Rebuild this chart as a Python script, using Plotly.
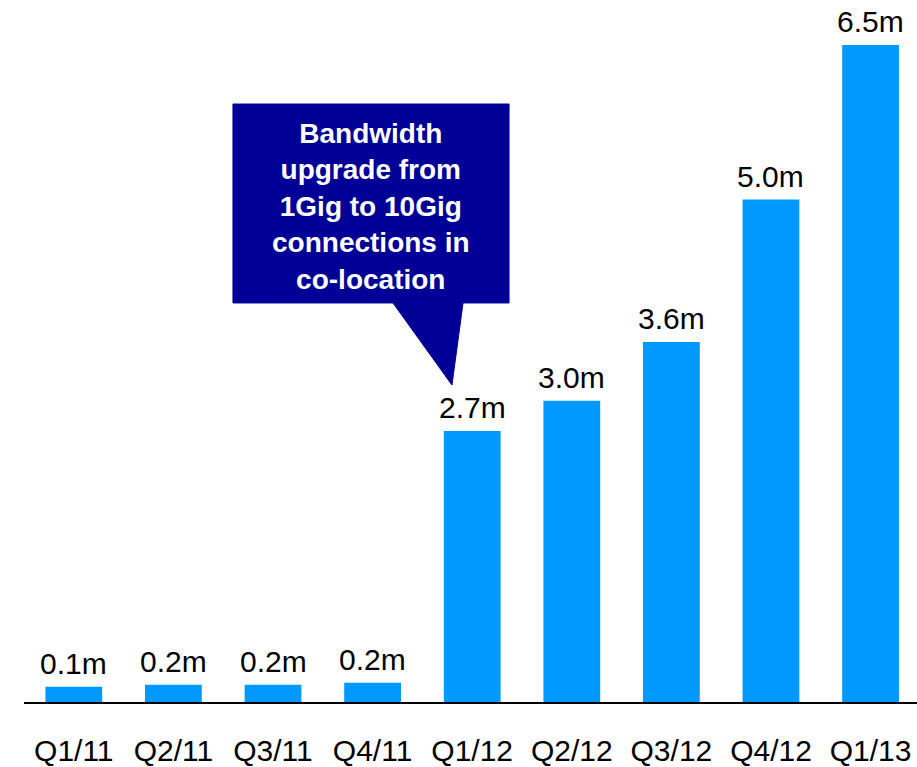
import plotly.graph_objects as go

categories = ["Q1/11", "Q2/11", "Q3/11", "Q4/11", "Q1/12", "Q2/12", "Q3/12", "Q4/12", "Q1/13"]
values = [0.15, 0.17, 0.17, 0.19, 2.68, 2.98, 3.56, 4.97, 6.5]
value_labels = ["0.1m", "0.2m", "0.2m", "0.2m", "2.7m", "3.0m", "3.6m", "5.0m", "6.5m"]
callout_text = "Bandwidth<br>upgrade from<br>1Gig to 10Gig<br>connections in<br>co-location"

FONT = "Arial, Liberation Sans, sans-serif"
BAR = "#0099FF"
NAVY = "#000096"

idx = list(range(len(categories)))

fig = go.Figure(go.Bar(
    x=idx, y=values, width=0.57,
    marker=dict(color=BAR, line=dict(width=0)),
    hoverinfo="skip",
))

for i, (v, lab) in enumerate(zip(values, value_labels)):
    fig.add_annotation(x=i, y=v, xref="x", yref="y", text=lab, showarrow=False,
                       yanchor="bottom", yshift=5,
                       font=dict(family=FONT, size=30, color="black"))

# callout box with pointer (data coordinates)
bx0, bx1, by0, by1 = 1.598, 4.37, 3.947, 5.915
px0, px1, tipx, tipy = 3.205, 3.908, 3.797, 3.135
path = (f"M {bx0},{by1} L {bx1},{by1} L {bx1},{by0} L {px1},{by0} "
        f"L {tipx},{tipy} L {px0},{by0} L {bx0},{by0} Z")
fig.add_shape(type="path", path=path, xref="x", yref="y",
              fillcolor=NAVY, line=dict(color=NAVY, width=1), layer="above")
fig.add_annotation(x=(bx0 + bx1) / 2, y=4.906, xref="x", yref="y",
                   text="<b>" + callout_text + "</b>", showarrow=False,
                   font=dict(family=FONT, size=28, color="white"), align="center")

fig.update_layout(
    width=917, height=767,
    margin=dict(l=24, r=0, t=0, b=65, autoexpand=False),
    paper_bgcolor="white", plot_bgcolor="white",
    showlegend=False,
    font=dict(family=FONT, color="black"),
    xaxis=dict(range=[-0.5, 8.466], tickvals=idx, ticktext=categories,
               showgrid=False, zeroline=False, automargin=False,
               showline=True, linecolor="black", linewidth=2,
               ticks="outside", ticklen=21, tickcolor="rgba(0,0,0,0)",
               tickfont=dict(family=FONT, size=30, color="black")),
    yaxis=dict(range=[0, 6.944], visible=False, showgrid=False, zeroline=False,
               automargin=False),
)

fig.write_html("out.html", config={"displayModeBar": False},
               post_script="document.body.style.margin='0px';document.body.style.overflow='hidden';")
